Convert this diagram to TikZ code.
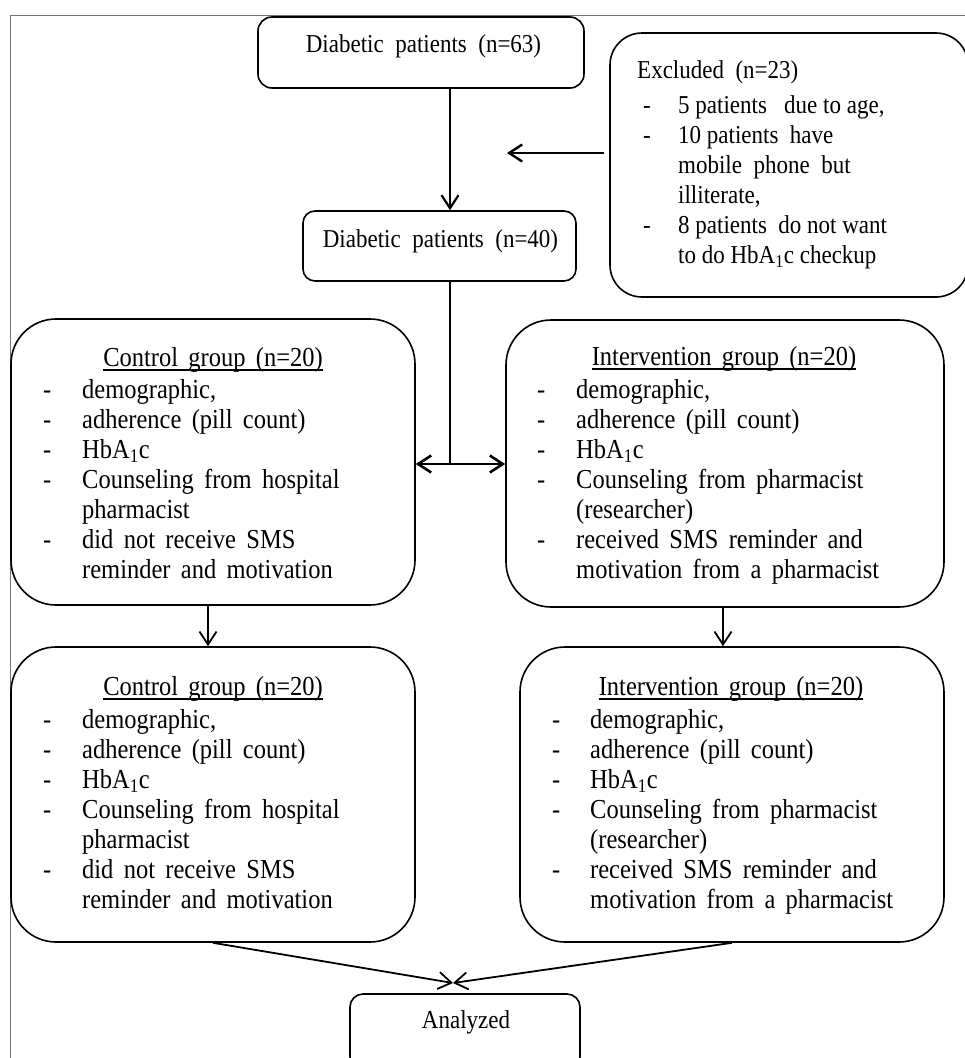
\documentclass[tikz,border=0pt]{standalone}
\usepackage{graphicx}
\usepackage{fontspec}
\setmainfont{Liberation Serif}
\usetikzlibrary{arrows.meta}
\newcommand{\dashitem}[2]{\makebox[#1][l]{-}#2}
\newcommand{\contitem}[2]{\hspace*{#1}#2}
\newcommand{\grpfont}{\fontsize{24.5}{26.8}\selectfont\spaceskip=0.42em plus 0.1em\relax}
\newcommand{\smfont}{\fontsize{23}{26.8}\selectfont}
\newcommand{\vs}[1]{\scalebox{1}[1.12]{#1}}
\begin{document}
\begin{tikzpicture}[x=1pt,y=-1pt,
  box/.style={draw, line width=1.6pt, rounded corners=#1, inner sep=0pt},
  txt/.style={inner sep=0pt, font=\smfont},
  grp/.style={inner sep=0pt, font=\grpfont},
  arr/.style={-{Straight Barb[length=13pt,width=17pt]}, line width=2pt},
  uline/.style={line width=1.3pt},
  frame/.style={draw=black!55, line width=1pt}]
\useasboundingbox (0,0) rectangle (965,1058);
\clip (0,0) rectangle (965,1058);
% frame
\draw[frame] (10,1058) -- (10,15) -- (965,15);
% boxes
\node[box=14pt, minimum width=326pt, minimum height=71pt] (b63) at (421,52.5) {};
\node[box=12pt, minimum width=273pt, minimum height=70pt] (b40) at (439.5,246) {};
\node[box=32pt, minimum width=358pt, minimum height=264pt] (excl) at (789,165) {};
\node[box=45pt, minimum width=404pt, minimum height=286pt] (c1) at (213,462) {};
\node[box=45pt, minimum width=438pt, minimum height=287pt] (i1) at (725,463.5) {};
\node[box=45pt, minimum width=404pt, minimum height=295pt] (c2) at (213,794.5) {};
\node[box=45pt, minimum width=424pt, minimum height=295pt] (i2) at (732,794.5) {};
\node[box=13pt, minimum width=230pt, minimum height=76pt] (an) at (465,1032) {};
% texts
\node[txt, anchor=base] (t63) at (423.5,52) {\vs{Diabetic\ \ patients\ \ (n=63)}};
\node[txt, anchor=base] (t40) at (440.5,247) {\vs{Diabetic\ \ patients\ \ (n=40)}};
\node[txt, anchor=base west] (exclt) at (637,78) {\vs{Excluded\ \ (n=23)}};
\node[txt, anchor=base west] (excll) at (643,113) {\vs{\parbox[t]{320pt}{\smfont
  \dashitem{35pt}{5 patients\ \ \ due to age,}\\
  \dashitem{35pt}{10 patients\ \ have}\\
  \contitem{35pt}{mobile\ \ phone\ \ but}\\
  \contitem{35pt}{illiterate,}\\
  \dashitem{35pt}{8 patients\ \ do not want}\\
  \contitem{35pt}{to do HbA\textsubscript{1}c checkup}}}};
\node[grp, anchor=base] (c1t) at (213,366) {\vs{Control group (n=20)}};
\node[grp, anchor=base west] (c1l) at (43,398) {\vs{\parbox[t]{370pt}{\grpfont
  \dashitem{39pt}{demographic,}\\
  \dashitem{39pt}{adherence (pill count)}\\
  \dashitem{39pt}{HbA\textsubscript{1}c}\\
  \dashitem{39pt}{Counseling from hospital}\\
  \contitem{39pt}{pharmacist}\\
  \dashitem{39pt}{did not receive SMS}\\
  \contitem{39pt}{reminder and motivation}}}};
\node[grp, anchor=base] (i1t) at (724,365) {\vs{Intervention group (n=20)}};
\node[grp, anchor=base west] (i1l) at (537,398) {\vs{\parbox[t]{400pt}{\grpfont
  \dashitem{39pt}{demographic,}\\
  \dashitem{39pt}{adherence (pill count)}\\
  \dashitem{39pt}{HbA\textsubscript{1}c}\\
  \dashitem{39pt}{Counseling from pharmacist}\\
  \contitem{39pt}{(researcher)}\\
  \dashitem{39pt}{received SMS reminder and}\\
  \contitem{39pt}{motivation from a pharmacist}}}};
\node[grp, anchor=base] (c2t) at (213,695) {\vs{Control group (n=20)}};
\node[grp, anchor=base west] (c2l) at (43,728) {\vs{\parbox[t]{370pt}{\grpfont
  \dashitem{39pt}{demographic,}\\
  \dashitem{39pt}{adherence (pill count)}\\
  \dashitem{39pt}{HbA\textsubscript{1}c}\\
  \dashitem{39pt}{Counseling from hospital}\\
  \contitem{39pt}{pharmacist}\\
  \dashitem{39pt}{did not receive SMS}\\
  \contitem{39pt}{reminder and motivation}}}};
\node[grp, anchor=base] (i2t) at (731,695) {\vs{Intervention group (n=20)}};
\node[grp, anchor=base west] (i2l) at (552,728) {\vs{\parbox[t]{390pt}{\grpfont
  \dashitem{38pt}{demographic,}\\
  \dashitem{38pt}{adherence (pill count)}\\
  \dashitem{38pt}{HbA\textsubscript{1}c}\\
  \dashitem{38pt}{Counseling from pharmacist}\\
  \contitem{38pt}{(researcher)}\\
  \dashitem{38pt}{received SMS reminder and}\\
  \contitem{38pt}{motivation from a pharmacist}}}};
\node[txt, anchor=base] (ant) at (466,1028) {\vs{Analyzed}};
% underlines
\foreach \t in {c1t,i1t,c2t,i2t}
  \draw[uline] ([yshift=-4pt]\t.base west) -- ([yshift=-4pt]\t.base east);
% connectors
\coordinate (ax) at (450,0);
\draw[arr, line width=2.2pt] (b63.south -| ax) -- (b40.north -| ax);
\coordinate (ex) at (507,153);
\draw[arr, line width=2.4pt] ([xshift=-5pt]excl.west |- ex) -- (ex);
\coordinate (sp) at (450,464);
\draw[line width=1.8pt] (b40.south -| sp) -- (sp);
\draw[arr, line width=2.6pt] (sp) -- (c1.east |- sp);
\draw[arr, line width=2.6pt] (sp) -- (i1.west |- sp);
\coordinate (ca) at (208,0);
\coordinate (ia) at (723,0);
\draw[arr, line width=1.8pt] (c1.south -| ca) -- (c2.north -| ca);
\draw[arr, line width=1.8pt] (i1.south -| ia) -- (i2.north -| ia);
\coordinate (m) at (453,983);
\draw[arr, line width=1.8pt] (c2.south) -- (m);
\draw[arr, line width=1.8pt] (i2.south) -- (m);
\end{tikzpicture}
\end{document}
